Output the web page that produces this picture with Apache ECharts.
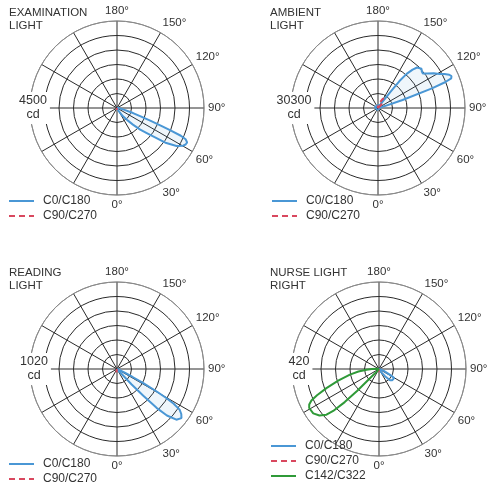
<!DOCTYPE html>
<html><head><meta charset="utf-8">
<script src="https://cdn.jsdelivr.net/npm/echarts/dist/echarts.min.js"></script>
<style>html,body{margin:0;padding:0;background:#fff}#c{width:487px;height:491px}</style>
</head><body><div id="c"></div>
<script>
// ---- data ----
const titles = ['EXAMINATION\nLIGHT', 'AMBIENT\nLIGHT', 'READING\nLIGHT', 'NURSE LIGHT\nRIGHT'];
const maxCd = [4500, 30300, 1020, 420];
const angleTicks = [0, 30, 60, 90, 120, 150, 180];
const legendNames = [['C0/C180', 'C90/C270'], ['C0/C180', 'C90/C270'], ['C0/C180', 'C90/C270'], ['C0/C180', 'C90/C270', 'C142/C322']];

// [angle (deg, 0 = down, 90 = right, 270 = left), intensity cd]
const exam_C0 = [[0,0],[20,50],[30,200],[35.8,530],[40,800],[43.8,1190],[47,1640],[50.8,2180],[54.6,3130],[57.5,3650],[60.3,3930],[62,4020],[63.9,4040],[65.5,3900],[66.5,3600],[67.3,3000],[68,2500],[69,1900],[70.5,1300],[72.5,870],[76,400],[80,180],[85,60],[90,0]];
const exam_C90 = [[335,0],[350,100],[360,130],[10,100],[25,0]];

const amb_C0 = [[0,600],[20,300],[60,150],[90,200],[100,400],[104,1000],[106,3000],[108,9000],[110,20000],[111,25000],[112,27500],[113.5,27900],[115,27400],[117,26000],[119,24500],[122,22900],[125,21000],[127.5,19700],[130,19900],[132,20400],[134,20500],[136,19600],[138,18000],[140,15500],[141.5,12000],[142.5,7000],[144,3000],[147,1200],[155,400],[170,500],[190,900],[220,1200],[250,1100],[280,900],[320,700],[360,600]];
const amb_C90 = [[120,0],[135,1500],[145,3200],[152,3800],[158,3200],[168,1500],[180,400],[190,0]];

const read_C0 = [[0,0],[30,5],[40,20],[42,60],[43.5,250],[44.5,440],[45.5,650],[47,800],[49.5,915],[52.7,950],[55,920],[57,875],[58.5,780],[59.5,670],[60.5,530],[61.7,345],[63,200],[65,100],[68,40],[72,10],[90,0]];
const read_C90 = [[335,0],[350,40],[360,50],[10,40],[25,0]];

const nurse_C0 = [[0,0],[30,5],[35,20],[40,45],[44,76],[50,84],[55,86],[59,85],[62,65],[64,45],[68,25],[75,8],[85,0]];
const nurse_C90 = [[335,0],[350,15],[360,20],[10,15],[25,0]];
const nurse_C142 = [[345,0],[330,5],[320,15],[316,40],[315,150],[314,230],[312.5,300],[311,336],[308,365],[304,383],[299.2,386],[297,378],[295,360],[293,325],[290,270],[286,205],[281,143],[277,100],[273,60],[270,35],[265,10],[255,0]];

// ---- layout ----
const centers = [[117,108],[378,108],[117,369],[379,369]];
const R = 87;
const titlePos = [[9,6],[270,6],[9,266],[270,266]];
const cdLabelPos = [[33,108],[294,108],[34,369],[299,369]];
const legendPos = [[8,195],[271,195],[8,458],[270,440]];

const FONT = 'Liberation Sans, Arial, sans-serif';
const BLUE = '#4a97d5', RED = '#d9485f', GREEN = '#2f9a38';

const chart = echarts.init(document.getElementById('c'), null, {renderer: 'canvas'});

function line(name, data, pi, color, type, area) {
  const s = {
    name, type: 'line', coordinateSystem: 'polar', polarIndex: pi,
    data: data.map(d => [d[1], d[0]]),
    symbol: 'none', showSymbol: false, silent: true, animation: false,
    lineStyle: {color, width: 2, type},
    itemStyle: {color},
    z: 3
  };
  if (area) s.areaStyle = {color: 'rgba(74,151,213,0.13)'};
  return s;
}

const polar = [], angleAxis = [], radiusAxis = [], title = [], legend = [], graphic = [];
for (let i = 0; i < 4; i++) {
  polar.push({center: centers[i], radius: R});
  angleAxis.push({
    polarIndex: i, type: 'value', min: 0, max: 360, interval: 30,
    startAngle: 270, clockwise: false,
    axisLine: {show: true, lineStyle: {color: '#8a8a8a', width: 1}},
    axisTick: {show: false},
    splitLine: {show: true, lineStyle: {color: '#2a2a2a', width: 1}},
    axisLabel: {
      show: true, margin: 4, fontSize: 11.5, color: '#333', fontFamily: FONT,
      formatter: v => (angleTicks.indexOf(v) >= 0 && v !== 360) ? v + '°' : ''
    }
  });
  radiusAxis.push({
    polarIndex: i, type: 'value', min: 0, max: maxCd[i], interval: maxCd[i] / 6,
    axisLine: {show: false}, axisTick: {show: false}, axisLabel: {show: false},
    splitLine: {show: true, lineStyle: {color: ['#2a2a2a','#2a2a2a','#2a2a2a','#2a2a2a','#2a2a2a','#2a2a2a','#8a8a8a'], width: 1}}
  });
  title.push({
    text: titles[i], left: titlePos[i][0], top: titlePos[i][1], padding: 0,
    textStyle: {fontSize: 11.5, lineHeight: 13, color: '#333', fontWeight: 'normal', fontFamily: FONT}
  });
  legend.push({
    data: legendNames[i], left: legendPos[i][0], top: legendPos[i][1], padding: 0,
    orient: 'vertical', itemWidth: 25, itemHeight: 14, itemGap: 3,
    selectedMode: false,
    itemStyle: {color: 'rgba(0,0,0,0)', borderWidth: 0, opacity: 0},
    textStyle: {fontSize: 12, color: '#333', fontFamily: FONT, padding: [0,0,0,4]}
  });
  graphic.push({
    type: 'text', x: cdLabelPos[i][0], y: cdLabelPos[i][1], z: 10,
    style: {
      text: maxCd[i] + '\ncd', fill: '#333', font: '12.5px ' + FONT,
      align: 'center', verticalAlign: 'middle', textAlign: 'center', textVerticalAlign: 'middle',
      lineHeight: 14, backgroundColor: '#fff', padding: [2, 3]
    }
  });
}

const series = [
  line('C0/C180', exam_C0, 0, BLUE, 'solid', true),
  line('C90/C270', exam_C90, 0, RED, [6,4], false),
  line('C0/C180', amb_C0, 1, BLUE, 'solid', true),
  line('C90/C270', amb_C90, 1, RED, [6,4], false),
  line('C0/C180', read_C0, 2, BLUE, 'solid', true),
  line('C90/C270', read_C90, 2, RED, [6,4], false),
  line('C0/C180', nurse_C0, 3, BLUE, 'solid', true),
  line('C90/C270', nurse_C90, 3, RED, [6,4], false),
  line('C142/C322', nurse_C142, 3, GREEN, 'solid', false)
];

chart.setOption({
  animation: false,
  backgroundColor: '#fff',
  textStyle: {fontFamily: FONT},
  title, legend, polar, angleAxis, radiusAxis, graphic, series
});
</script>
</body></html>
